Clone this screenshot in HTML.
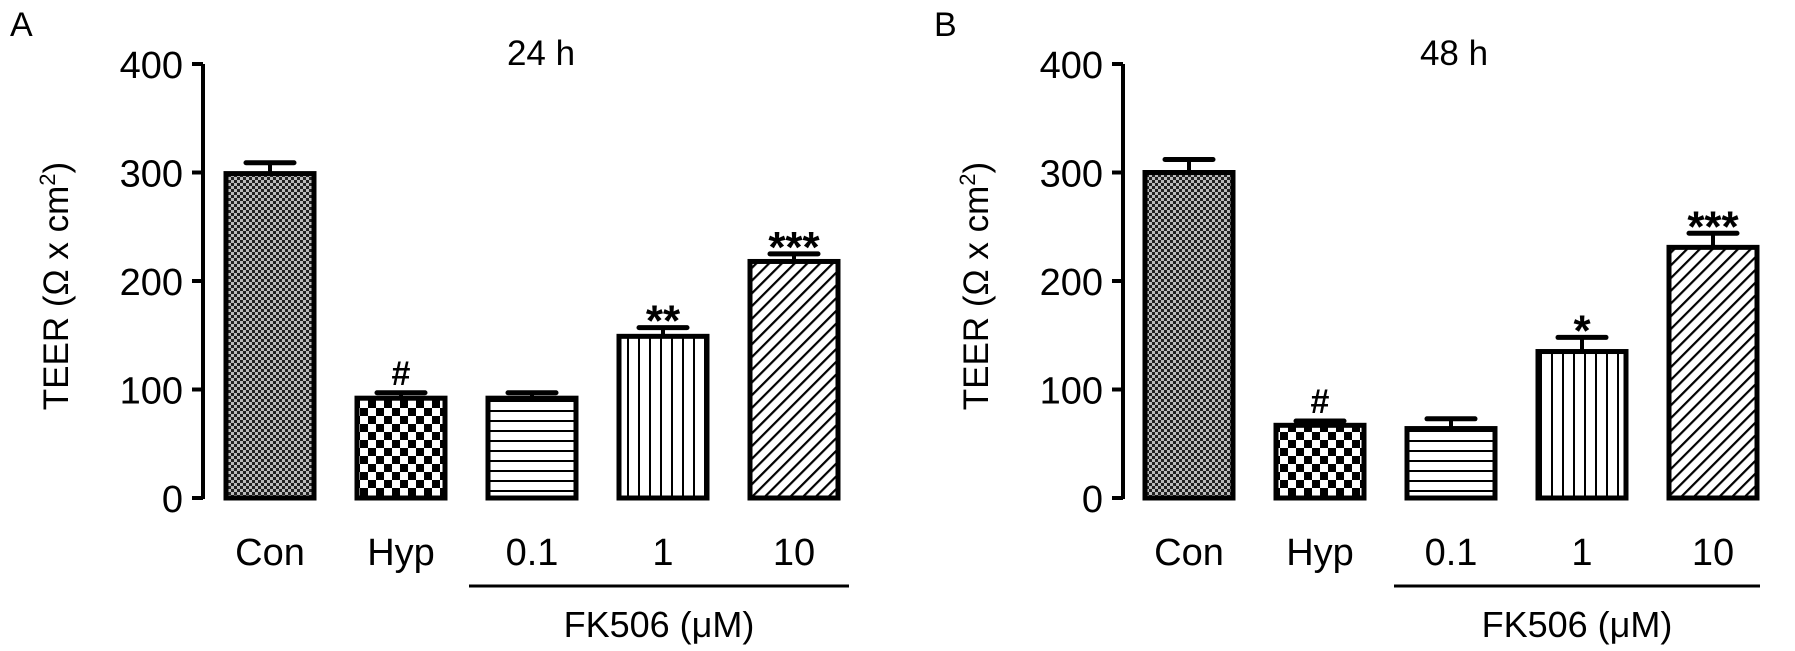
<!DOCTYPE html>
<html><head><meta charset="utf-8"><style>
body{margin:0;background:#fff}
svg{display:block;font-family:"Liberation Sans",Arial,sans-serif}
</style></head><body>
<svg id="chart" width="1795" height="651" viewBox="0 0 1795 651">
<defs>
<pattern id="pCon" width="6" height="6" patternUnits="userSpaceOnUse"><rect width="6" height="6" fill="#bbb"/><rect width="3" height="3" fill="#222"/><rect x="3" y="3" width="3" height="3" fill="#222"/></pattern>
<pattern id="pHyp" width="16" height="16" patternUnits="userSpaceOnUse"><rect width="16" height="16" fill="#fff"/><rect width="8" height="8" fill="#000"/><rect x="8" y="8" width="8" height="8" fill="#000"/></pattern>
<pattern id="pH" width="10" height="10" patternUnits="userSpaceOnUse"><rect width="10" height="10" fill="#fff"/><rect y="0" width="10" height="2" fill="#000"/></pattern>
<pattern id="pV" width="11" height="10" patternUnits="userSpaceOnUse"><rect width="11" height="10" fill="#fff"/><rect x="0" width="2" height="10" fill="#000"/></pattern>
<pattern id="pD" width="9" height="9" patternUnits="userSpaceOnUse" patternTransform="rotate(-45)"><rect width="9" height="9" fill="#fff"/><rect width="9" height="2.2" fill="#000"/></pattern>
</defs>
<g id="root"></g>
</svg>
<script>
const categories = ["Con","Hyp","0.1","1","10"];
const meansA = [299, 92, 92, 149, 218];
const errsA = [10, 5, 5, 8, 7];
const meansB = [300, 67, 64, 135, 231];
const errsB = [12, 4, 9, 13, 13];
const marksA = ["", "#", "", "**", "***"];
const marksB = ["", "#", "", "*", "***"];
const yTicks = [0, 100, 200, 300, 400];
const fills = ["url(#pCon)","url(#pHyp)","url(#pH)","url(#pV)","url(#pD)"];

const NS = "http://www.w3.org/2000/svg";
const root = document.getElementById("root");
function mk(tag, attrs, parent, text){
  const e = document.createElementNS(NS, tag);
  for (const k in attrs) e.setAttribute(k, attrs[k]);
  if (text !== undefined) e.textContent = text;
  (parent || root).appendChild(e);
  return e;
}
const y0 = 498, yPer = 1.085;
function yScale(v){ return y0 - v * yPer; }

function panel(id, axisX, firstCx, means, errs, marks, title, letter, letterX, titleX, lineX1, lineX2){
  const g = mk("g", {});
  
  
  const xScale = i => firstCx + i * 131;
  const lt = mk("text", {x: letterX, y: 36, "font-size": 34}, g, letter);
  
  
  const tt = mk("text", {x: titleX, y: 65, "font-size": 35, "text-anchor": "middle"}, g, title);
  
  
  const ax = mk("line", {x1: axisX, y1: yScale(400), x2: axisX, y2: y0 + 1, stroke: "#000", "stroke-width": 4}, g);
  
  
  yTicks.forEach(t => {
    const tk = mk("line", {x1: axisX - 11, y1: yScale(t), x2: axisX, y2: yScale(t), stroke: "#000", "stroke-width": 4}, g);
    
    
    const tl = mk("text", {x: axisX - 20, y: yScale(t) + 14, "font-size": 38, "text-anchor": "end"}, g, String(t));
    
    
  });
  const yt = mk("text", {transform: `translate(${axisX - 135},${286}) rotate(-90)`, "font-size": 35, "text-anchor": "middle"}, g);
  
  
  mk("tspan", {}, yt, "TEER (Ω x cm");
  mk("tspan", {"font-size": 22, dy: -13}, yt, "2");
  mk("tspan", {dy: 13}, yt, ")");
  categories.forEach((c, i) => {
    const cx = xScale(i), w = 88;
    const top = yScale(means[i]), et = yScale(means[i] + errs[i]);
    const el = mk("line", {x1: cx, y1: et, x2: cx, y2: top, stroke: "#000", "stroke-width": 4}, g);
    
    
    const cap = mk("line", {x1: cx - 24, y1: et, x2: cx + 24, y2: et, stroke: "#000", "stroke-width": 5, "stroke-linecap": "round"}, g);
    
    
    const b = mk("rect", {x: cx - w/2, y: top, width: w, height: y0 - top, fill: fills[i], stroke: "#000", "stroke-width": 5}, g);
    
    
    if (marks[i]) {
      const m = mk("text", {x: cx, y: et - 8 + (marks[i]==="#"?0:16), "font-size": marks[i]==="#"?34:44, "font-weight": "bold", "text-anchor": "middle"}, g, marks[i]);
      
      
    }
    const cl = mk("text", {x: cx, y: 565, "font-size": 38, "text-anchor": "middle"}, g, c);
    
    
  });
  const ln = mk("line", {x1: lineX1, y1: 586, x2: lineX2, y2: 586, stroke: "#000", "stroke-width": 3}, g);
  
  
  const fk = mk("text", {x: (lineX1 + lineX2)/2, y: 637, "font-size": 36, "text-anchor": "middle"}, g, "FK506 (μM)");
  
  
}
panel("a", 203, 270, meansA, errsA, marksA, "24 h", "A", 10, 541, 469, 849);
panel("b", 1123, 1189, meansB, errsB, marksB, "48 h", "B", 934, 1454, 1394, 1760);
</script>
</body></html>
